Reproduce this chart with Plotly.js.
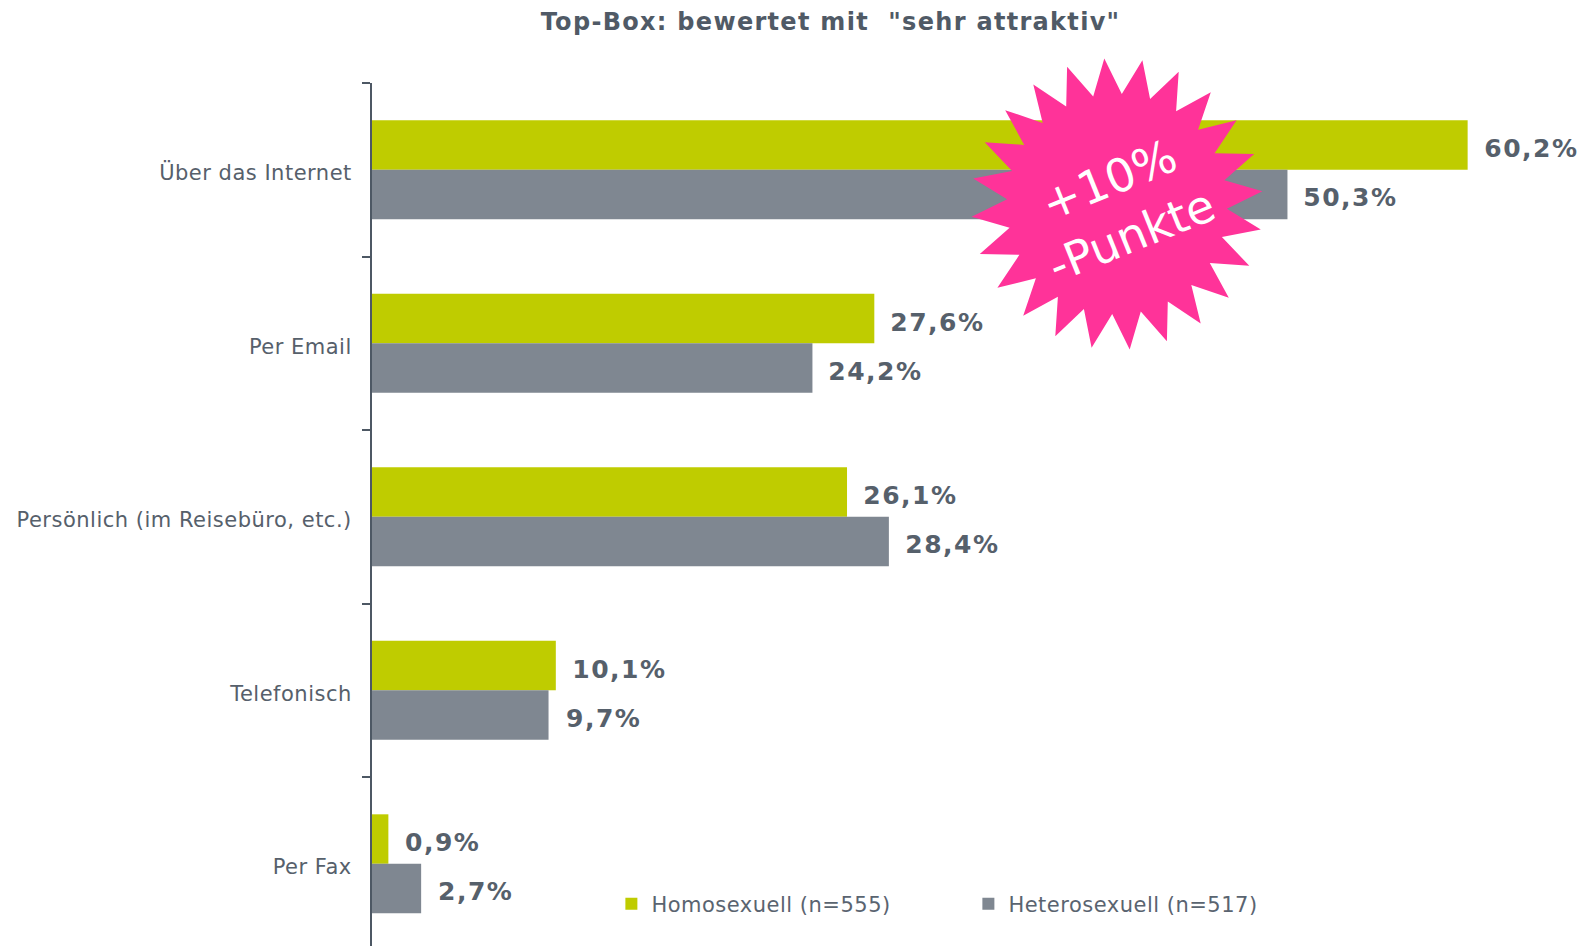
<!DOCTYPE html>
<html>
<head>
<meta charset="utf-8">
<script src="https://cdn.plot.ly/plotly-3.0.1.min.js"></script>
<style>
html,body{margin:0;padding:0;background:#fff;}
#chart{width:1588px;height:946px;}
#chart .gtitle{letter-spacing:1.3px;}
#chart .ytick text{letter-spacing:0.5px;}
#chart .legendtext{letter-spacing:0.5px;}
#chart .annotation.val text{letter-spacing:1.5px;}
</style>
</head>
<body>
<div id="chart"></div>
<script>
// ---- data ----
const categories = ["Über das Internet", "Per Email", "Persönlich (im Reisebüro, etc.)", "Telefonisch", "Per Fax"];
const homoValues = [60.2, 27.6, 26.1, 10.1, 0.9];
const heteroValues = [50.3, 24.2, 28.4, 9.7, 2.7];
const homoName = "Homosexuell (n=555)";
const heteroName = "Heterosexuell (n=517)";
const chartTitle = 'Top-Box: bewertet mit  "sehr attraktiv"';
const burstText = "+10%<br>-Punkte";

// ---- layout constants ----
const W = 1588, H = 946;
const M = {l: 372, r: 15, t: 83, b: 0, autoexpand: false};
const plotW = W - M.l - M.r, plotH = H - M.t - M.b;
const green = "#BFCC00", gray = "#7F8791";
const textCol = "#56606B";
const fmt = v => v.toFixed(1).replace(".", ",") + "%";

const traces = [
  {type: "bar", orientation: "h", name: homoName, y: categories, x: homoValues,
   marker: {color: green}, hoverinfo: "x+y"},
  {type: "bar", orientation: "h", name: heteroName, y: categories, x: heteroValues,
   marker: {color: gray}, hoverinfo: "x+y"}
];

const valFont = {family: "DejaVu Sans", size: 25, color: textCol, weight: "bold"};
const annotations = [];
categories.forEach((c, i) => {
  annotations.push({x: homoValues[i], y: c, xref: "x", yref: "y", text: fmt(homoValues[i]),
    showarrow: false, xanchor: "left", yanchor: "middle", xshift: 18, yshift: 21, font: valFont});
  annotations.push({x: heteroValues[i], y: c, xref: "x", yref: "y", text: fmt(heteroValues[i]),
    showarrow: false, xanchor: "left", yanchor: "middle", xshift: 18, yshift: -28, font: valFont});
});
const nVal = annotations.length;

// starburst decoration
const cx = 1117, cy = 204;
const ax = (cx - M.l) / plotW, ay = (H - M.b - cy) / plotH;
const nPts = 24, rOut = 146, rIn = 110, rot = 10;
let p = "";
for (let k = 0; k < nPts * 2; k++) {
  const r = k % 2 === 0 ? rOut : rIn;
  const a = (rot + k * 180 / nPts) * Math.PI / 180;
  const px = r * Math.sin(a), py = r * Math.cos(a);
  p += (k === 0 ? "M" : "L") + px.toFixed(1) + "," + py.toFixed(1);
}
p += "Z";
const shapes = [{type: "path", xref: "paper", yref: "paper", xsizemode: "pixel", ysizemode: "pixel",
  xanchor: ax, yanchor: ay, path: p, fillcolor: "#FF3399", line: {width: 0}, layer: "above"}];

annotations.push({xref: "paper", yref: "paper", x: ax, y: ay, xanchor: "center", yanchor: "middle",
  xshift: 3, yshift: -4,
  text: burstText, showarrow: false, textangle: -22, align: "center",
  font: {family: "DejaVu Sans", size: 46, color: "#FFFFFF"}});

const layout = {
  width: W, height: H,
  margin: M,
  paper_bgcolor: "#FFFFFF", plot_bgcolor: "#FFFFFF",
  barmode: "group", bargap: 0.43, bargroupgap: 0,
  title: {text: chartTitle, xref: "container", x: 0.523, xanchor: "center",
    yref: "container", y: 1 - 22 / H, yanchor: "middle",
    font: {family: "DejaVu Sans", size: 24, color: "#505A66", weight: "bold"}},
  xaxis: {range: [0, plotW / 18.2], visible: false, showgrid: false, zeroline: false, fixedrange: true},
  yaxis: {type: "category", range: [4.474, -0.5], showline: true, linecolor: "#4D5864", linewidth: 2,
    ticks: "outside", tickson: "boundaries", ticklen: 8, tickwidth: 2, tickcolor: "#4D5864",
    ticklabelstandoff: 14, ticklabelshift: -3, showgrid: false, zeroline: false,
    tickfont: {family: "DejaVu Sans", size: 21, color: "#56606B"}},
  legend: {orientation: "h", xref: "container", yref: "container", x: 0.385, y: 1 - 904 / H,
    xanchor: "left", yanchor: "middle", entrywidth: 312, entrywidthmode: "pixels",
    font: {family: "DejaVu Sans", size: 21, color: "#5A6470"}, bgcolor: "rgba(0,0,0,0)"},
  shapes: shapes,
  annotations: annotations,
  showlegend: true
};

Plotly.newPlot("chart", traces, layout, {displayModeBar: false, responsive: false}).then(gd => {
  gd.querySelectorAll(".annotation").forEach((el, i) => { if (i < nVal) el.classList.add("val"); });
});
</script>
</body>
</html>
